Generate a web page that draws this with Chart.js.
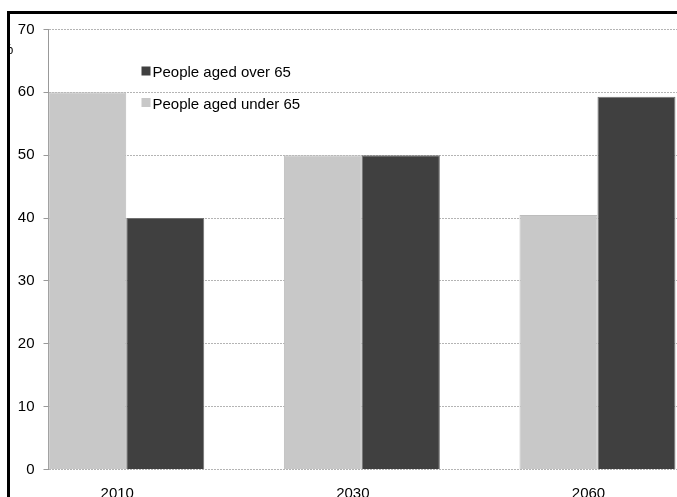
<!DOCTYPE html>
<html>
<head>
<meta charset="utf-8">
<script src="https://cdn.jsdelivr.net/npm/chart.js@4/dist/chart.umd.min.js"></script>
<style>
  html, body { margin: 0; padding: 0; background: #fff; overflow: hidden; }
  #wrap { position: relative; width: 677px; height: 497px; }
  #c { position: absolute; left: 0; top: 0; }
  #frame { position: absolute; left: 7px; top: 11px; width: 700px; height: 600px;
           border-top: 3px solid #000; border-left: 3px solid #000; box-sizing: border-box; }
  #maskL { position: absolute; left: 0; top: 0; width: 7px; height: 497px; background: #fff; }
  #maskT { position: absolute; left: 0; top: 0; width: 677px; height: 11px; background: #fff; }
  #pct { position: absolute; left: 0px; top: 40px; font: 15px "Liberation Sans", Arial, sans-serif; line-height: 18px; color: #000; }
</style>
</head>
<body>
<div id="wrap">
  <canvas id="c" width="677" height="497"></canvas>
  <div id="pct">%</div>
  <div id="maskL"></div>
  <div id="maskT"></div>
  <div id="frame"></div>
</div>
<script>
// ---- data ----
const categories = ['2010', '2030', '2060'];
const under65 = [60, 50, 40.5];
const over65 = [40, 50, 59.3];
const seriesNames = ['People aged under 65', 'People aged over 65'];
const yTickValues = [0, 10, 20, 30, 40, 50, 60, 70];

const FONT = '"Liberation Sans", Arial, sans-serif';

const legendPlugin = {
  id: 'insideLegend',
  afterDatasetsDraw(chart) {
    const ctx = chart.ctx;
    const area = chart.chartArea;
    const ds = chart.data.datasets.slice().reverse();
    ctx.save();
    ctx.font = '15px ' + FONT;
    ctx.textBaseline = 'alphabetic';
    ctx.textAlign = 'left';
    ds.forEach((d, i) => {
      const sx = area.left + 93;
      const sy = area.top + 37 + i * 31.5;
      ctx.fillStyle = d.backgroundColor;
      ctx.fillRect(sx, sy, 9, 9);
      ctx.fillStyle = '#000';
      ctx.fillText(d.label, sx + 11, sy + 10.8);
    });
    ctx.restore();
  }
};

new Chart(document.getElementById('c'), {
  type: 'bar',
  data: {
    datasets: [
      {
        label: seriesNames[0],
        data: under65.map((v, i) => ({ x: i, y: v })),
        backgroundColor: '#c8c8c8',
        borderColor: '#bdbdbd',
        borderWidth: 1
      },
      {
        label: seriesNames[1],
        data: over65.map((v, i) => ({ x: i, y: v })),
        backgroundColor: '#404040',
        borderColor: '#707070',
        borderWidth: 1
      }
    ]
  },
  options: {
    responsive: false,
    devicePixelRatio: 1,
    animation: false,
    categoryPercentage: 0.662,
    barPercentage: 1,
    layout: { padding: { left: 0, top: 29.5, right: 0, bottom: 0 } },
    plugins: { legend: { display: false }, tooltip: { enabled: false } },
    scales: {
      x: {
        type: 'linear',
        offset: false,
        min: -0.33,
        max: 2.3375,
        afterBuildTicks(scale) { scale.ticks = categories.map((c, i) => ({ value: i })); },
        afterFit(scale) { scale.height = 27.5; },
        ticks: {
          callback: (v) => categories[v] !== undefined ? categories[v] : '',
          font: { family: FONT, size: 15 },
          color: '#000',
          padding: 15,
          labelOffset: -9,
          maxRotation: 0,
          autoSkip: false
        },
        grid: { display: false, drawTicks: false, offset: false },
        border: { display: false }
      },
      y: {
        min: 0,
        max: 70,
        afterBuildTicks(scale) { scale.ticks = yTickValues.map(v => ({ value: v })); },
        afterFit(scale) { scale.width = 48.5; },
        ticks: {
          font: { family: FONT, size: 15 },
          color: '#000',
          padding: 9
        },
        grid: {
          color: '#b4b4b4',
          lineWidth: 1,
          tickLength: 5,
          tickColor: '#999',
          tickBorderDash: []
        },
        border: { display: true, color: '#999', width: 1, dash: [2, 1] }
      }
    }
  },
  plugins: [legendPlugin]
});
</script>
</body>
</html>
